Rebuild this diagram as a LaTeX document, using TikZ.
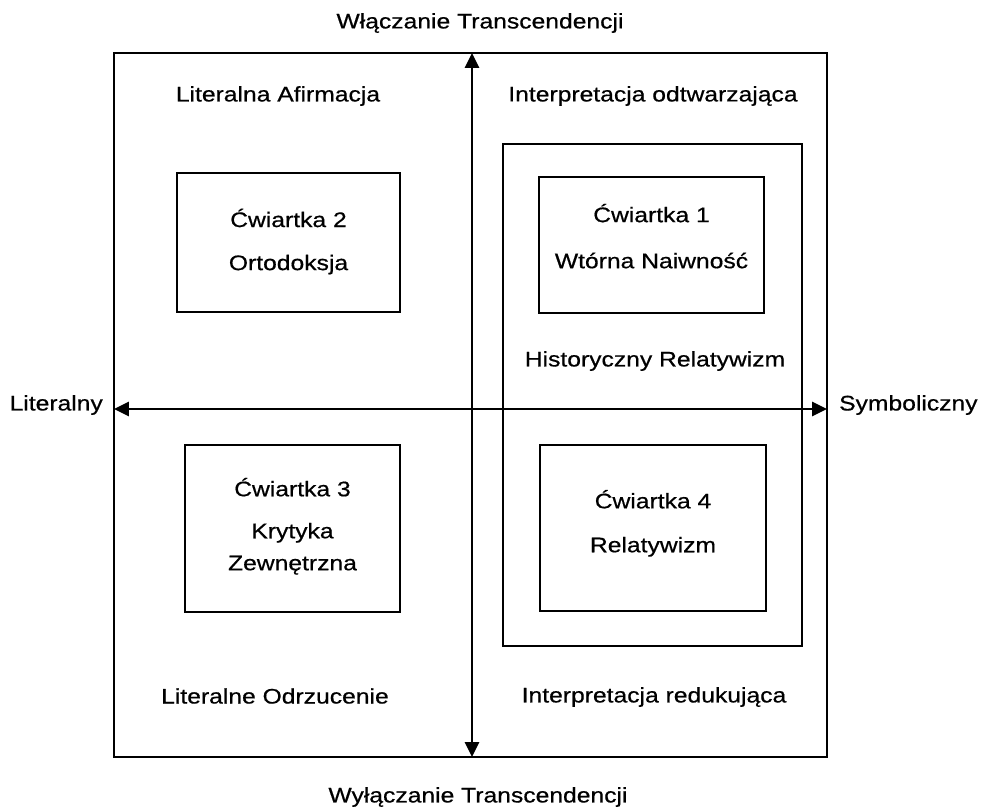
\documentclass[tikz,border=0pt]{standalone}
\usepackage{fontspec}
\setmainfont{Liberation Sans}[FakeStretch=1.17, FakeBold=0.6]
\usetikzlibrary{arrows.meta}

\begin{document}
\begin{tikzpicture}[x=0.02cm, y=-0.02cm, line width=1.3pt,
	font=\fontsize{12}{14.5}\selectfont,
	quarterbox/.style={draw, align=center, inner sep=0pt},
	axislabel/.style={inner sep=0pt}]
	\useasboundingbox (0,0) rectangle (982,810);

	% outer frame and the big right box
	\draw (114,53) rectangle (827,757);
	\draw (503,144) rectangle (802,646);

	% axes
	\coordinate (up) at (472,53);
	\coordinate (down) at (472,757);
	\coordinate (lft) at (114,409);
	\coordinate (rgt) at (827,409);
	\draw [<->, >={Triangle[length=8.5pt, width=8pt]}] (up) -- (down);
	\draw [<->, >={Triangle[length=8.5pt, width=8pt]}] (lft) -- (rgt);

	% axis labels
	\node[axislabel] (top) at (480,23) {Włączanie Transcendencji};
	\node[axislabel] (bottom) at (478,797) {Wyłączanie Transcendencji};
	\node[axislabel, anchor=east] (literal) at (104,405) {Literalny};
	\node[axislabel, anchor=west] (symbol) at (838,405) {Symboliczny};

	% corner labels
	\node[axislabel] (afirm) at (278,96) {Literalna Afirmacja};
	\node[axislabel] (odtw) at (653,96) {Interpretacja odtwarzająca};
	\node[axislabel] (histrel) at (655,361) {Historyczny Relatywizm};
	\node[axislabel] (odrz) at (275,696) {Literalne Odrzucenie};
	\node[axislabel] (redu) at (654,697) {Interpretacja redukująca};

	% quarters
	\node[quarterbox, minimum width=4.5cm, minimum height=2.72cm] (q1) at (651.5,245)
		{Ćwiartka 1\\[11.7pt] Wtórna Naiwność\\[-4.3pt]};
	\node[quarterbox, minimum width=4.46cm, minimum height=2.78cm] (q2) at (288.5,242.5)
		{Ćwiartka 2\\[10pt] Ortodoksja\\[-11pt]};
	\node[quarterbox, minimum width=4.3cm, minimum height=3.34cm] (q3) at (292.5,528.5)
		{Ćwiartka 3\\[9.4pt] Krytyka\\[3.7pt] Zewnętrzna\\[-9.5pt]};
	\node[quarterbox, minimum width=4.52cm, minimum height=3.32cm] (q4) at (653,528)
		{Ćwiartka 4\\[10.5pt] Relatywizm\\[-6.7pt]};
\end{tikzpicture}
\end{document}
